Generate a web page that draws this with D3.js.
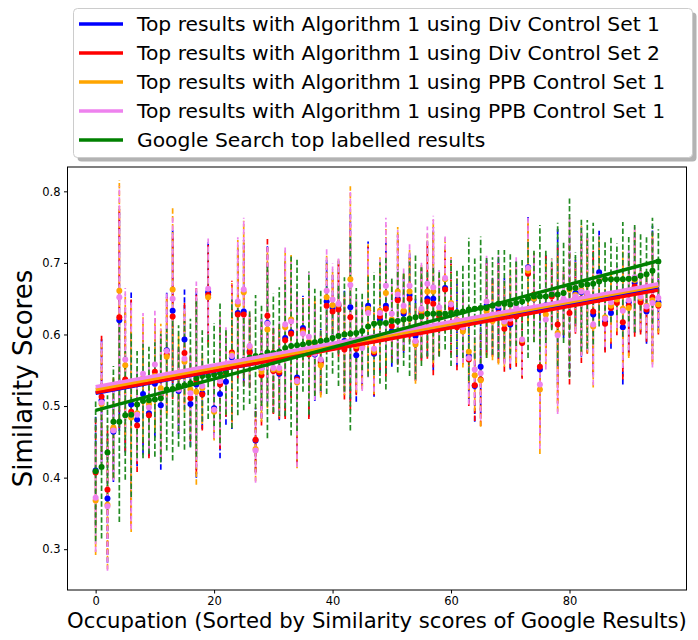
<!DOCTYPE html>
<html>
<head>
<meta charset="utf-8">
<script src="https://cdn.jsdelivr.net/npm/d3@7"></script>
<style>
  body { margin: 0; background: #fff; }
  svg { display: block; font-family: "DejaVu Sans", sans-serif; }
</style>
</head>
<body>
<svg id="chart" width="698" height="640"></svg>
<script>
// occupations 0..95, sorted by google similarity
const blueMean = [0.410,0.508,0.371,0.464,0.620,0.535,0.502,0.481,0.517,0.490,0.531,0.501,0.578,0.633,0.521,0.593,
  0.503,0.530,0.518,0.659,0.497,0.517,0.534,0.568,0.630,0.632,0.577,0.452,0.552,0.616,0.550,0.545,
  0.595,0.603,0.540,0.609,0.575,0.572,0.563,0.646,0.637,0.640,0.591,0.638,0.571,0.587,0.640,0.573,
  0.621,0.640,0.605,0.650,0.629,0.655,0.598,0.630,0.650,0.650,0.630,0.665,0.640,0.615,0.614,0.570,
  0.528,0.555,0.640,0.626,0.636,0.621,0.614,0.632,0.590,0.694,0.650,0.551,0.641,0.655,0.640,0.640,
  0.642,0.658,0.659,0.655,0.628,0.687,0.618,0.630,0.651,0.610,0.645,0.672,0.648,0.632,0.662,0.645]
const redMean = [0.407,0.513,0.383,0.468,0.624,0.537,0.492,0.473,0.533,0.487,0.548,0.516,0.572,0.625,0.524,0.574,
  0.511,0.535,0.516,0.655,0.494,0.530,0.545,0.575,0.628,0.628,0.575,0.453,0.543,0.626,0.549,0.547,
  0.592,0.601,0.537,0.606,0.572,0.580,0.560,0.640,0.632,0.635,0.579,0.624,0.580,0.584,0.634,0.575,
  0.625,0.636,0.612,0.648,0.632,0.650,0.590,0.628,0.646,0.643,0.625,0.663,0.636,0.610,0.608,0.565,
  0.529,0.537,0.636,0.624,0.630,0.608,0.616,0.625,0.588,0.685,0.656,0.555,0.640,0.653,0.614,0.644,
  0.630,0.651,0.650,0.653,0.632,0.680,0.615,0.637,0.644,0.617,0.640,0.667,0.645,0.635,0.652,0.640]
const orangeMean = [0.368,0.503,0.362,0.470,0.661,0.557,0.484,0.490,0.539,0.503,0.542,0.525,0.569,0.663,0.540,0.562,
  0.523,0.520,0.525,0.652,0.492,0.537,0.548,0.572,0.642,0.659,0.582,0.440,0.548,0.607,0.551,0.550,
  0.610,0.621,0.533,0.603,0.590,0.587,0.557,0.652,0.641,0.642,0.585,0.677,0.584,0.583,0.636,0.577,
  0.633,0.658,0.621,0.660,0.633,0.660,0.586,0.633,0.660,0.660,0.632,0.677,0.644,0.621,0.604,0.576,
  0.543,0.536,0.632,0.619,0.628,0.615,0.628,0.630,0.592,0.689,0.650,0.523,0.628,0.660,0.602,0.648,
  0.663,0.655,0.662,0.655,0.611,0.678,0.624,0.640,0.649,0.636,0.637,0.676,0.651,0.640,0.648,0.642]
const pinkMean = [0.372,0.505,0.360,0.466,0.652,0.565,0.488,0.488,0.545,0.498,0.558,0.518,0.577,0.650,0.523,0.566,
  0.518,0.544,0.528,0.664,0.495,0.535,0.552,0.570,0.646,0.663,0.584,0.438,0.553,0.615,0.553,0.553,
  0.614,0.618,0.535,0.601,0.597,0.573,0.565,0.661,0.649,0.643,0.588,0.669,0.587,0.581,0.630,0.580,
  0.630,0.668,0.629,0.656,0.640,0.668,0.591,0.636,0.671,0.666,0.638,0.679,0.642,0.620,0.610,0.567,
  0.551,0.546,0.646,0.628,0.640,0.618,0.622,0.638,0.593,0.693,0.654,0.530,0.621,0.660,0.599,0.650,
  0.668,0.653,0.660,0.658,0.614,0.681,0.622,0.645,0.654,0.633,0.648,0.680,0.653,0.639,0.644,0.651]
const googleMean = [0.409,0.415,0.435,0.478,0.478,0.487,0.488,0.502,0.507,0.508,0.509,0.511,0.523,0.524,0.528,0.529,
  0.532,0.539,0.542,0.542,0.544,0.546,0.548,0.559,0.562,0.564,0.568,0.570,0.570,0.575,0.574,0.576,
  0.581,0.584,0.585,0.586,0.588,0.589,0.591,0.592,0.595,0.598,0.600,0.601,0.602,0.605,0.611,0.615,
  0.616,0.616,0.619,0.619,0.621,0.622,0.624,0.625,0.629,0.629,0.629,0.629,0.630,0.631,0.632,0.635,
  0.636,0.637,0.637,0.640,0.643,0.643,0.642,0.644,0.646,0.650,0.653,0.653,0.653,0.656,0.656,0.658,
  0.665,0.665,0.669,0.670,0.671,0.674,0.677,0.677,0.677,0.677,0.678,0.678,0.682,0.684,0.689,0.702]
// spread of the four algorithm runs and of the google results
const algoErr = [0.076,0.088,0.090,0.070,0.155,0.100,0.160,0.065,0.085,0.060,0.075,0.090,0.082,0.115,0.060,0.070,
  0.060,0.130,0.050,0.070,0.040,0.090,0.060,0.100,0.090,0.100,0.050,0.045,0.070,0.110,0.060,0.065,
  0.110,0.090,0.120,0.045,0.090,0.065,0.045,0.060,0.050,0.066,0.070,0.130,0.065,0.060,0.090,0.060,
  0.075,0.095,0.050,0.090,0.055,0.060,0.055,0.065,0.080,0.100,0.055,0.060,0.065,0.060,0.050,0.065,
  0.050,0.065,0.065,0.055,0.070,0.060,0.063,0.070,0.050,0.070,0.060,0.090,0.070,0.045,0.110,0.045,
  0.100,0.050,0.090,0.080,0.085,0.060,0.040,0.050,0.045,0.080,0.070,0.070,0.045,0.045,0.090,0.040]
const googleErr = [0.098,0.100,0.080,0.078,0.140,0.090,0.115,0.075,0.080,0.075,0.080,0.090,0.085,0.100,0.085,0.090,
  0.090,0.110,0.064,0.060,0.072,0.098,0.060,0.090,0.075,0.070,0.065,0.085,0.070,0.120,0.083,0.090,
  0.095,0.125,0.120,0.066,0.100,0.075,0.070,0.075,0.050,0.070,0.080,0.135,0.063,0.055,0.070,0.072,
  0.085,0.093,0.059,0.072,0.065,0.080,0.087,0.069,0.060,0.065,0.060,0.050,0.074,0.060,0.065,0.100,
  0.070,0.100,0.070,0.068,0.075,0.075,0.070,0.060,0.060,0.083,0.064,0.100,0.065,0.050,0.100,0.070,
  0.125,0.050,0.093,0.090,0.085,0.063,0.055,0.060,0.050,0.080,0.060,0.075,0.060,0.055,0.074,0.045]
// regression lines read at x=0 and x=95
const fitStart = [0.518, 0.519, 0.523, 0.527, 0.494]
const fitEnd = [0.665, 0.662, 0.668, 0.671, 0.703]
const seriesNames = [
  'Top results with Algorithm 1 using Div Control Set 1',
  'Top results with Algorithm 1 using Div Control Set 2',
  'Top results with Algorithm 1 using PPB Control Set 1',
  'Top results with Algorithm 1 using PPB Control Set 1',
  'Google Search top labelled results'
]
const colors = ['#0000ff', '#ff0000', '#ffa500', '#ee82ee', '#008000']
const barColors = ['#0000ff', '#ff0000', '#ffa500', '#ee82ee', '#228b22']
const xTicks = [0, 20, 40, 60, 80]
const yTicks = [0.3, 0.4, 0.5, 0.6, 0.7, 0.8]

const means = [blueMean, redMean, orangeMean, pinkMean, googleMean]
const errs = [algoErr, algoErr, algoErr, algoErr, googleErr]

const svg = d3.select('#chart')
const marginLeft = 67.5, marginRight = 11.5, marginTop = 167, marginBottom = 50
const width = 698, height = 640

const x = d3.scaleLinear([-4.75, 99.75], [marginLeft, width - marginRight])
const y = d3.scaleLinear([0.243, 0.834], [height - marginBottom, marginTop])

const plot = svg.append('g')

// error bars first, google on top of the others
means.forEach((m, s) => {
  plot.append('g')
    .attr('stroke', barColors[s])
    .attr('stroke-width', 1.7)
    .attr('stroke-dasharray', '5.5,2.4')
    .selectAll('line')
    .data(m)
    .join('line')
    .attr('x1', (d, i) => x(i))
    .attr('x2', (d, i) => x(i))
    .attr('y1', (d, i) => y(d - errs[s][i]))
    .attr('y2', (d, i) => y(d + errs[s][i]))
})

means.forEach((m, s) => {
  plot.append('g')
    .attr('fill', colors[s])
    .selectAll('circle')
    .data(m)
    .join('circle')
    .attr('cx', (d, i) => x(i))
    .attr('cy', d => y(d))
    .attr('r', 3)
})

fitStart.forEach((v, s) => {
  plot.append('line')
    .attr('x1', x(0)).attr('x2', x(95))
    .attr('y1', y(v)).attr('y2', y(fitEnd[s]))
    .attr('stroke', colors[s])
    .attr('stroke-width', 3.5)
    .attr('stroke-linecap', 'butt')
})

// axes
svg.append('g')
  .attr('transform', `translate(0,${height - marginBottom})`)
  .call(d3.axisBottom(x).tickValues(xTicks).tickSize(3.5).tickPadding(3.5).tickFormat(d3.format('d')))
  .call(g => g.select('.domain').remove())
  .call(g => g.selectAll('text').attr('font-size', 11.5).attr('fill', '#000').attr('font-family', 'DejaVu Sans'))

svg.append('g')
  .attr('transform', `translate(${marginLeft},0)`)
  .call(d3.axisLeft(y).tickValues(yTicks).tickSize(3.5).tickPadding(3.5).tickFormat(d3.format('.1f')))
  .call(g => g.select('.domain').remove())
  .call(g => g.selectAll('text').attr('font-size', 11.5).attr('fill', '#000').attr('font-family', 'DejaVu Sans'))

svg.append('rect')
  .attr('x', marginLeft).attr('y', marginTop)
  .attr('width', width - marginRight - marginLeft)
  .attr('height', height - marginBottom - marginTop)
  .attr('fill', 'none').attr('stroke', '#000').attr('stroke-width', 1)

svg.append('text')
  .attr('x', (marginLeft + width - marginRight) / 2)
  .attr('y', 628)
  .attr('text-anchor', 'middle')
  .attr('font-size', 21.2)
  .text('Occupation (Sorted by Similarity scores of Google Results)')

svg.append('text')
  .attr('transform', `translate(32,${(marginTop + height - marginBottom) / 2}) rotate(-90)`)
  .attr('text-anchor', 'middle')
  .attr('font-size', 26)
  .text('Similarity Scores')

// legend with shadow
const legend = svg.append('g')
legend.append('rect')
  .attr('x', 77.5).attr('y', 12.5).attr('width', 619).attr('height', 149).attr('rx', 4)
  .attr('fill', '#808080').attr('opacity', 0.6)
legend.append('rect')
  .attr('x', 73.5).attr('y', 8.5).attr('width', 619).attr('height', 149).attr('rx', 4)
  .attr('fill', '#fff').attr('stroke', '#cccccc')

seriesNames.forEach((name, s) => {
  const cy = 24 + s * 29
  legend.append('line')
    .attr('x1', 79).attr('x2', 123).attr('y1', cy).attr('y2', cy)
    .attr('stroke', colors[s]).attr('stroke-width', 3.5)
  legend.append('text')
    .attr('x', 137).attr('y', cy).attr('dy', '0.35em')
    .attr('font-size', 20.3)
    .text(name)
})
</script>
</body>
</html>
